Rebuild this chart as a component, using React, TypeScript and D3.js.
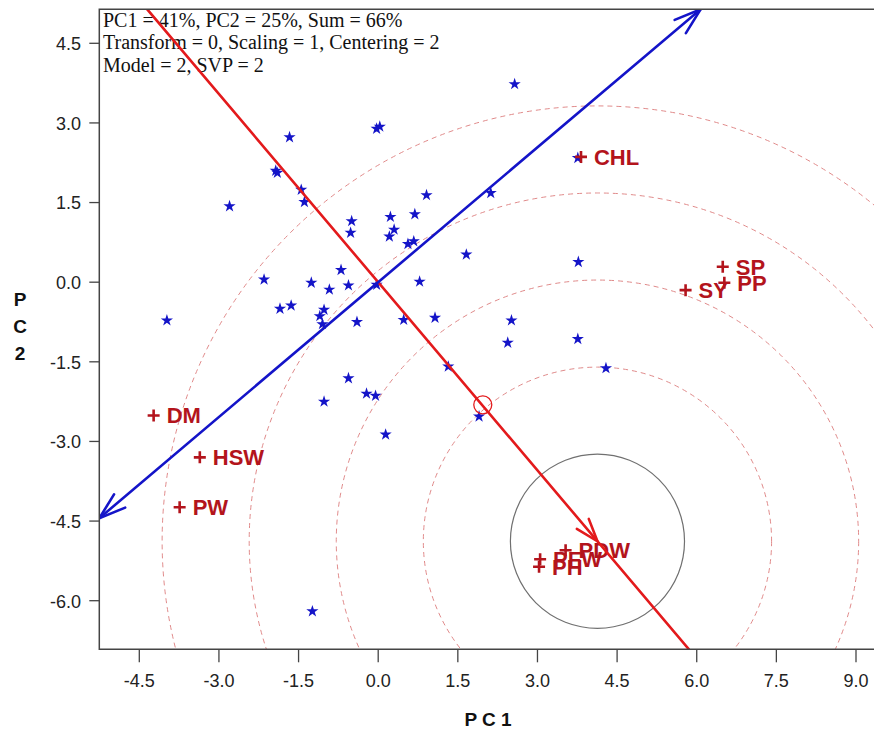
import React from 'react';
import * as d3 from 'd3';

const xTicks = [-4.5, -3.0, -1.5, 0.0, 1.5, 3.0, 4.5, 6.0, 7.5, 9.0];
const yTicks = [4.5, 3.0, 1.5, 0.0, -1.5, -3.0, -4.5, -6.0];

const infoLines = [
  'PC1 = 41%, PC2 = 25%, Sum = 66%',
  'Transform = 0, Scaling = 1, Centering = 2',
  'Model = 2, SVP = 2',
];

// genotypes (blue stars)
const genoPC1 = [
  -1.67, -0.03, 0.03, -1.93, -1.9, -1.45, -1.39, -2.8, 0.91, -0.5,
  0.23, 0.69, -0.52, 0.3, 0.21, 0.56, 0.67, -2.15, -0.7, -1.26,
  -0.92, -0.56, 0.78, -0.03, 1.66, -1.85, -1.64, -1.02, -1.1, -1.05,
  -0.4, 0.48, 1.07, -3.98, 1.32, -0.56, -0.22, -0.05, -1.02, 0.14,
  2.51, 2.44, 3.76, 4.29, 1.9, 2.57, 2.12, 3.76, 3.77, -1.24,
];
const genoPC2 = [
  2.73, 2.89, 2.93, 2.1, 2.06, 1.74, 1.51, 1.43, 1.64, 1.15,
  1.23, 1.28, 0.93, 0.99, 0.86, 0.72, 0.77, 0.05, 0.23, -0.01,
  -0.14, -0.06, 0.01, -0.05, 0.52, -0.5, -0.44, -0.52, -0.64, -0.79,
  -0.75, -0.71, -0.67, -0.72, -1.59, -1.81, -2.1, -2.14, -2.25, -2.87,
  -0.72, -1.14, -1.07, -1.62, -2.53, 3.73, 1.68, 2.34, 0.38, -6.2,
];

// traits (red plus)
const traitNames = ['CHL', 'SY', 'PP', 'SP', 'DM', 'HSW', 'PW', 'PH', 'PFW', 'PDW'];
const traitPC1 = [3.82, 5.79, 6.52, 6.49, -4.23, -3.36, -3.74, 3.03, 3.05, 3.53];
const traitPC2 = [2.36, -0.15, -0.01, 0.29, -2.51, -3.3, -4.24, -5.36, -5.22, -5.05];

const idealPoint = [4.13, -4.88];
const avgPoint = [1.97, -2.31];
const ringStep = 1.64;
const ringIdx = [2, 3, 4, 5];

const W = 874;
const H = 731;
const left = 99.3;
const top = 9.3;
const bottom = 649.3;
const right = 900;

const x = d3.scaleLinear().domain([-4.5, 9.0]).range([139.3, 856]);
const y = d3.scaleLinear().domain([4.5, -6.0]).range([43.3, 600.7]);

// intersect a ray from (ox,oy) along (dx,dy) with the plot box
function toEdge(ox, oy, dx, dy) {
  let t = Infinity;
  if (dx > 0) t = Math.min(t, (right - ox) / dx);
  if (dx < 0) t = Math.min(t, (left - ox) / dx);
  if (dy > 0) t = Math.min(t, (bottom - oy) / dy);
  if (dy < 0) t = Math.min(t, (top - oy) / dy);
  return [ox + dx * t, oy + dy * t];
}

function arrowHead(tip, dx, dy, len = 26, ang = 18) {
  const a = (ang * Math.PI) / 180;
  const bx = -dx, by = -dy;
  const p1 = [tip[0] + len * (bx * Math.cos(a) - by * Math.sin(a)), tip[1] + len * (bx * Math.sin(a) + by * Math.cos(a))];
  const p2 = [tip[0] + len * (bx * Math.cos(-a) - by * Math.sin(-a)), tip[1] + len * (bx * Math.sin(-a) + by * Math.cos(-a))];
  return `M${p1[0]},${p1[1]}L${tip[0]},${tip[1]}L${p2[0]},${p2[1]}`;
}

const App = () => {
  const ox = x(0), oy = y(0);
  const unit = x(1) - x(0);

  // red axis through ideal point
  let rdx = x(idealPoint[0]) - ox, rdy = y(idealPoint[1]) - oy;
  const rl = Math.hypot(rdx, rdy);
  rdx /= rl; rdy /= rl;
  const redA = toEdge(ox, oy, rdx, rdy);
  const redB = toEdge(ox, oy, -rdx, -rdy);
  const idealPx = [x(idealPoint[0]), y(idealPoint[1])];

  // blue axis perpendicular
  const bdx = -rdy, bdy = rdx;
  const blueA = toEdge(ox, oy, bdx, bdy);
  const blueB = toEdge(ox, oy, -bdx, -bdy);

  const star = d3.symbol().type(d3.symbolStar).size(46)();
  const blue = '#1414c8';
  const red = '#e31a1c';
  const dark = '#b3141c';

  return (
    <svg width={W} height={H} style={{ position: 'absolute', left: 0, top: 0, background: '#fff' }}>
      <defs>
        <clipPath id="plot">
          <rect x={left} y={top} width={right - left} height={bottom - top} />
        </clipPath>
      </defs>

      <g clipPath="url(#plot)">
        {ringIdx.map(k => (
          <circle key={k} cx={idealPx[0]} cy={idealPx[1]} r={k * ringStep * unit}
            fill="none" stroke="#e08a8a" strokeWidth={1} strokeDasharray="5,4" />
        ))}
        <circle cx={idealPx[0]} cy={idealPx[1]} r={ringStep * unit} fill="none" stroke="#707070" strokeWidth={1.2} />
      </g>

      {/* info text */}
      <g fontFamily="'Liberation Serif', 'Times New Roman', serif" fontSize={20} fill="#111">
        {infoLines.map((t, i) => (
          <text key={i} x={103} y={27 + i * 22.3}>{t}</text>
        ))}
      </g>

      {/* genotypes */}
      {genoPC1.map((v, i) => (
        <path key={i} d={star} transform={`translate(${x(v)},${y(genoPC2[i])})`} fill={blue} />
      ))}

      {/* traits */}
      <g fontFamily="'Liberation Sans', Arial, sans-serif" fontWeight="bold" fontSize={22} fill={dark}>
        {traitNames.map((n, i) => {
          const px = x(traitPC1[i]), py = y(traitPC2[i]);
          return (
            <g key={n}>
              <path d={`M${px - 6},${py}H${px + 6}M${px},${py - 6}V${py + 6}`} stroke={dark} strokeWidth={2.6} />
              <text x={px + 13} y={py + 8}>{n}</text>
            </g>
          );
        })}
      </g>

      <g clipPath="url(#plot)" fill="none" strokeLinecap="round">
        <line x1={redA[0]} y1={redA[1]} x2={redB[0]} y2={redB[1]} stroke={red} strokeWidth={2.6} />
        <path d={arrowHead(idealPx, rdx, rdy, 24, 19)} stroke={red} strokeWidth={2.6} />
        <circle cx={x(avgPoint[0])} cy={y(avgPoint[1])} r={9} stroke={red} strokeWidth={1.3} />
        <line x1={blueA[0]} y1={blueA[1]} x2={blueB[0]} y2={blueB[1]} stroke={blue} strokeWidth={2.6} />
        <path d={arrowHead(blueA, bdx, bdy, 28, 18)} stroke={blue} strokeWidth={2.6} />
        <path d={arrowHead(blueB, -bdx, -bdy, 28, 18)} stroke={blue} strokeWidth={2.6} />
      </g>

      {/* frame */}
      <path d={`M${right},${top}H${left}V${bottom}H${right}`} fill="none" stroke="#444" strokeWidth={1.5} />

      {/* axes */}
      <g fontFamily="'Liberation Sans', Arial, sans-serif" fontSize={18} fill="#222">
        {xTicks.map(t => (
          <g key={t}>
            <line x1={x(t)} x2={x(t)} y1={bottom} y2={bottom + 13} stroke="#444" strokeWidth={1.3} />
            <text x={x(t)} y={687} textAnchor="middle">{t.toFixed(1)}</text>
          </g>
        ))}
        {yTicks.map(t => (
          <g key={t}>
            <line x1={left - 10} x2={left} y1={y(t)} y2={y(t)} stroke="#444" strokeWidth={1.3} />
            <text x={81} y={y(t) + 6.8} textAnchor="end">{t.toFixed(1)}</text>
          </g>
        ))}
      </g>
      <g fontFamily="'Liberation Sans', Arial, sans-serif" fontWeight="bold" fontSize={19} fill="#111" textAnchor="middle">
        <text x={488} y={726}>P C 1</text>
        <text x={20} y={306}>P</text>
        <text x={20} y={333}>C</text>
        <text x={20} y={360}>2</text>
      </g>
    </svg>
  );
};

export default App;
